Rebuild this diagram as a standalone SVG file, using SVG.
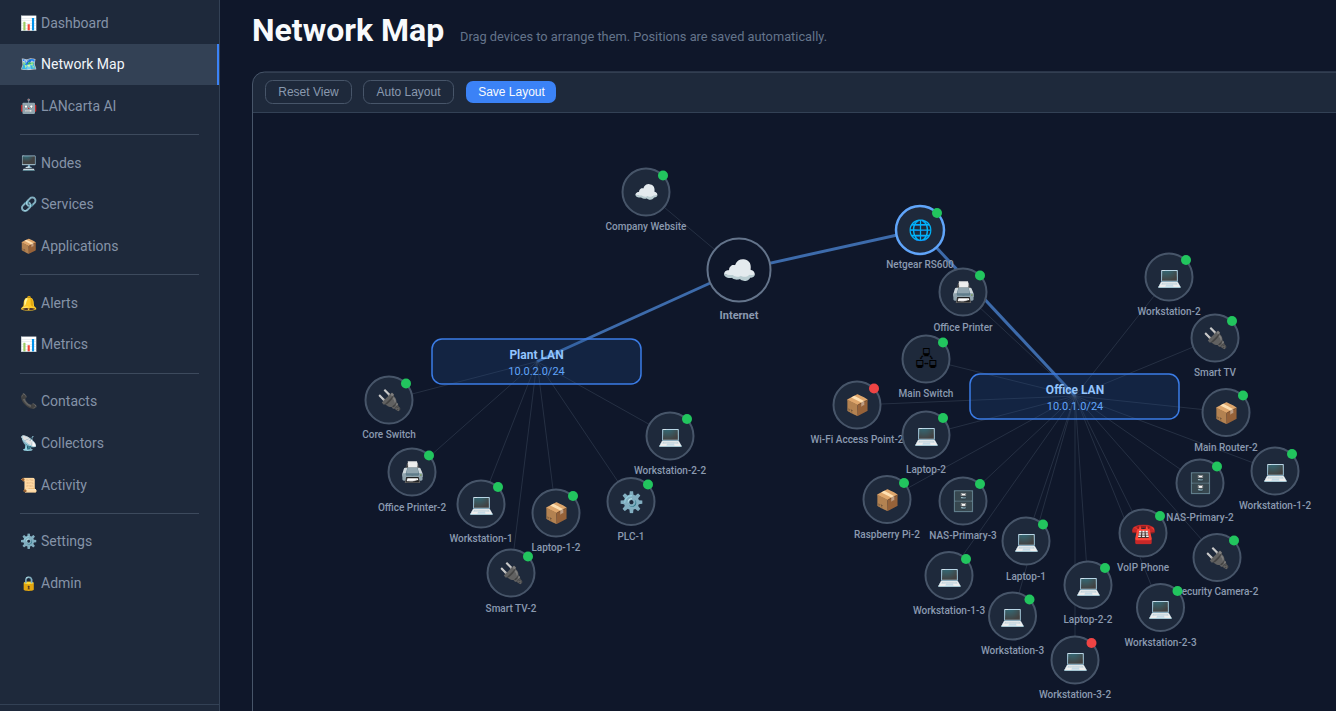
<svg xmlns="http://www.w3.org/2000/svg" width="1336" height="711" viewBox="0 0 1336 711">
<style>
text{font-family:Roboto,"Liberation Sans","Noto Color Emoji",sans-serif}
.nav{font-size:14px;fill:#8593a8}
.div{stroke:#3d4a5d;stroke-width:1}
.c{fill:#1e293b;stroke:#475569;stroke-width:2}
.ico{font-size:20px;text-anchor:middle}
.sw{font-family:"Noto Sans Symbols 2","Noto Sans Symbols2","Noto Sans Symbols","Noto Color Emoji";fill:#000}
.lbl{font-size:10px;font-weight:500;fill:#8b9ab0;text-anchor:middle}
.ok{fill:#22c55e}.bad{fill:#ef4444}
.thin{stroke:#475569;stroke-width:1;opacity:.4}
.thick{stroke:#3d6bab;stroke-width:3}
.lan{fill:#1e4a8a;fill-opacity:.25;stroke:#3b7ce6;stroke-width:1.500}
.lt{font-size:12px;font-weight:700;fill:#93c5fd;text-anchor:middle}
.ls{font-size:11px;fill:#60a5fa;text-anchor:middle}
.btn{fill:none;stroke:#475569;stroke-width:1}
.bt{font-family:"Liberation Sans",Arial,sans-serif;font-size:12px;fill:#8a99af;text-anchor:middle}
</style>
<rect width="1336" height="711" fill="#0f172a"/>
<g id="sidebar">
<rect width="220" height="711" fill="#1e293b"/>
<line x1="219.500" y1="0" x2="219.500" y2="711" stroke="#334155"/>
<line x1="0" y1="704.500" x2="219" y2="704.500" stroke="#334155"/>
<rect y="44" width="219" height="41" fill="#334155"/>
<rect x="217" y="44" width="2" height="41" fill="#3b82f6"/>
<line class="div" x1="20" y1="134.500" x2="199" y2="134.500"/>
<line class="div" x1="20" y1="274.500" x2="199" y2="274.500"/>
<line class="div" x1="20" y1="373.500" x2="199" y2="373.500"/>
<line class="div" x1="20" y1="513.500" x2="199" y2="513.500"/>
<text class="nav" x="20" y="28">📊</text><text class="nav" x="41" y="28">Dashboard</text>
<text class="nav" x="20" y="69">🗺️</text><text class="nav" x="41" y="69" style="fill:#f1f5f9">Network Map</text>
<text class="nav" x="20" y="111">🤖</text><text class="nav" x="41" y="111">LANcarta AI</text>
<text class="nav" x="20" y="168">🖥️</text><text class="nav" x="41" y="168">Nodes</text>
<text class="nav" x="20" y="209">🔗</text><text class="nav" x="41" y="209">Services</text>
<text class="nav" x="20" y="251">📦</text><text class="nav" x="41" y="251">Applications</text>
<text class="nav" x="20" y="308">🔔</text><text class="nav" x="41" y="308">Alerts</text>
<text class="nav" x="20" y="349">📊</text><text class="nav" x="41" y="349">Metrics</text>
<text class="nav" x="20" y="406">📞</text><text class="nav" x="41" y="406">Contacts</text>
<text class="nav" x="20" y="448">📡</text><text class="nav" x="41" y="448">Collectors</text>
<text class="nav" x="20" y="490">📜</text><text class="nav" x="41" y="490">Activity</text>
<text class="nav" x="20" y="546">⚙️</text><text class="nav" x="41" y="546">Settings</text>
<text class="nav" x="20" y="588">🔒</text><text class="nav" x="41" y="588">Admin</text>
</g>
<g id="header">
<text x="252" y="41" font-size="32" font-weight="700" fill="#f8fafc">Network Map</text>
<text x="460" y="41" font-size="12.800" fill="#64748b">Drag devices to arrange them. Positions are saved automatically.</text>
</g>
<g id="panel">
<path d="M252.500 711V84a12 12 0 0 1 12-12H1336V112H252.500" fill="#1e293b"/>
<rect x="253" y="113" width="1083" height="598" fill="#0f172a"/>
<path d="M252.500 711V84a12 12 0 0 1 12-12H1336" fill="none" stroke="#475569"/>
<line x1="253" y1="112.500" x2="1336" y2="112.500" stroke="#334155"/>
<rect class="btn" x="265.500" y="80.500" width="86" height="23" rx="7"/><text class="bt" x="308.500" y="96">Reset View</text>
<rect class="btn" x="363.500" y="80.500" width="90" height="23" rx="7"/><text class="bt" x="408.500" y="96">Auto Layout</text>
<rect x="466" y="81" width="90" height="22" rx="7" fill="#3b82f6"/><text class="bt" x="511.500" y="96" style="fill:#f8fafc">Save Layout</text>
</g>
<g id="connectors">
<line class="thin" x1="646" y1="192" x2="739" y2="270"/>
<line class="thick" x1="739" y1="270" x2="920" y2="230"/>
<line class="thick" x1="739" y1="270" x2="537" y2="361.500"/>
<line class="thick" x1="920" y1="230" x2="1075" y2="396"/>
<line class="thin" x1="537" y1="361.500" x2="389" y2="400"/>
<line class="thin" x1="537" y1="361.500" x2="412" y2="472"/>
<line class="thin" x1="537" y1="361.500" x2="481" y2="504"/>
<line class="thin" x1="537" y1="361.500" x2="556" y2="513"/>
<line class="thin" x1="537" y1="361.500" x2="631" y2="501"/>
<line class="thin" x1="537" y1="361.500" x2="670" y2="436"/>
<line class="thin" x1="537" y1="361.500" x2="511" y2="573"/>
<line class="thin" x1="1075" y1="396" x2="963" y2="292"/>
<line class="thin" x1="1075" y1="396" x2="926" y2="359"/>
<line class="thin" x1="1075" y1="396" x2="857" y2="405"/>
<line class="thin" x1="1075" y1="396" x2="926" y2="435"/>
<line class="thin" x1="1075" y1="396" x2="887" y2="499.500"/>
<line class="thin" x1="1075" y1="396" x2="963" y2="501"/>
<line class="thin" x1="1075" y1="396" x2="949" y2="575"/>
<line class="thin" x1="1075" y1="396" x2="1026" y2="541"/>
<line class="thin" x1="1075" y1="396" x2="1012.500" y2="616"/>
<line class="thin" x1="1075" y1="396" x2="1088" y2="585"/>
<line class="thin" x1="1075" y1="396" x2="1075" y2="660"/>
<line class="thin" x1="1075" y1="396" x2="1143" y2="533"/>
<line class="thin" x1="1075" y1="396" x2="1217" y2="557"/>
<line class="thin" x1="1075" y1="396" x2="1160" y2="607"/>
<line class="thin" x1="1075" y1="396" x2="1200" y2="483"/>
<line class="thin" x1="1075" y1="396" x2="1275" y2="471"/>
<line class="thin" x1="1075" y1="396" x2="1226" y2="412"/>
<line class="thin" x1="1075" y1="396" x2="1215" y2="338"/>
<line class="thin" x1="1075" y1="396" x2="1169" y2="277"/>
</g>
<g id="plant-lan"><rect class="lan" x="432" y="339" width="209" height="45" rx="10"/><text class="lt" x="536.500" y="359">Plant LAN</text><text class="ls" x="536.500" y="375">10.0.2.0/24</text></g>
<g id="office-lan"><rect class="lan" x="970" y="374" width="209" height="45" rx="10"/><text class="lt" x="1075" y="394">Office LAN</text><text class="ls" x="1075" y="410">10.0.1.0/24</text></g>
<g id="internet"><circle cx="739" cy="270" r="31.500" fill="#0f172a" stroke="#64748b" stroke-width="2"/><text class="ico" x="739.500" y="280" style="font-size:28px">☁️</text><text class="lbl" x="739" y="319" style="font-size:11px;font-weight:700">Internet</text></g>
<g id="company-website"><circle class="c" cx="646" cy="192" r="23.500"/><text class="ico" x="646.500" y="199">☁️</text><circle class="ok" cx="663" cy="175.500" r="5"/><text class="lbl" x="646" y="230">Company Website</text></g>
<g id="netgear-rs600"><circle class="c" cx="920" cy="230" r="24" style="stroke:#60a5fa;stroke-width:2.500"/><text class="ico" x="920.500" y="237">🌐</text><circle class="ok" cx="937" cy="213" r="5"/><text class="lbl" x="920" y="268">Netgear RS600</text></g>
<g id="office-printer"><circle class="c" cx="963" cy="292" r="23.500"/><text class="ico" x="963.500" y="299">🖨️</text><circle class="ok" cx="980" cy="275.500" r="5"/><text class="lbl" x="963" y="331">Office Printer</text></g>
<g id="main-switch"><circle class="c" cx="926" cy="359" r="23.500"/><text class="ico sw" x="926.500" y="366">🖧</text><circle class="ok" cx="943" cy="342.500" r="5"/><text class="lbl" x="926" y="397">Main Switch</text></g>
<g id="wifi-ap-2"><circle class="c" cx="857" cy="405" r="23.500"/><text class="ico" x="857.500" y="412">📦</text><circle class="bad" cx="874" cy="388.500" r="5"/><text class="lbl" x="857" y="443">Wi-Fi Access Point-2</text></g>
<g id="laptop-2"><circle class="c" cx="926" cy="435" r="23.500"/><text class="ico" x="926.500" y="442">💻</text><circle class="ok" cx="943" cy="418" r="5"/><text class="lbl" x="926" y="473">Laptop-2</text></g>
<g id="raspberry-pi-2"><circle class="c" cx="887" cy="499.500" r="23.500"/><text class="ico" x="887.500" y="507">📦</text><circle class="ok" cx="904" cy="483" r="5"/><text class="lbl" x="887" y="538">Raspberry Pi-2</text></g>
<g id="nas-primary-3"><circle class="c" cx="963" cy="501" r="23.500"/><text class="ico" x="963.500" y="508">🗄️</text><circle class="ok" cx="980" cy="484" r="5"/><text class="lbl" x="963" y="539">NAS-Primary-3</text></g>
<g id="workstation-1-3"><circle class="c" cx="949" cy="575.500" r="23.500"/><text class="ico" x="949.500" y="583">💻</text><circle class="ok" cx="966" cy="559" r="5"/><text class="lbl" x="949" y="614">Workstation-1-3</text></g>
<g id="laptop-1"><circle class="c" cx="1026" cy="541" r="23.500"/><text class="ico" x="1026.500" y="548">💻</text><circle class="ok" cx="1043" cy="524.500" r="5"/><text class="lbl" x="1026" y="580">Laptop-1</text></g>
<g id="workstation-3"><circle class="c" cx="1012.500" cy="616" r="23.500"/><text class="ico" x="1013" y="623">💻</text><circle class="ok" cx="1029.500" cy="599.500" r="5"/><text class="lbl" x="1012.500" y="654">Workstation-3</text></g>
<g id="laptop-2-2"><circle class="c" cx="1088" cy="585" r="23.500"/><text class="ico" x="1088.500" y="592">💻</text><circle class="ok" cx="1105" cy="568" r="5"/><text class="lbl" x="1088" y="623">Laptop-2-2</text></g>
<g id="workstation-3-2"><circle class="c" cx="1075" cy="660" r="23.500"/><text class="ico" x="1075.500" y="667">💻</text><circle class="bad" cx="1091.500" cy="643" r="5"/><text class="lbl" x="1075" y="698">Workstation-3-2</text></g>
<g id="security-camera-2"><circle class="c" cx="1217" cy="557.500" r="23.500"/><text class="ico" x="1217.500" y="565">🔌</text><circle class="ok" cx="1234" cy="540.500" r="5"/><text class="lbl" x="1217" y="595">Security Camera-2</text></g>
<g id="workstation-2-3"><circle class="c" cx="1160.500" cy="607.500" r="23.500"/><text class="ico" x="1161" y="615">💻</text><circle class="ok" cx="1177.500" cy="591" r="5"/><text class="lbl" x="1160.500" y="646">Workstation-2-3</text></g>
<g id="nas-primary-2"><circle class="c" cx="1200" cy="483" r="23.500"/><text class="ico" x="1200.500" y="490">🗄️</text><circle class="ok" cx="1217" cy="466.500" r="5"/><text class="lbl" x="1200" y="521">NAS-Primary-2</text></g>
<g id="voip-phone"><circle class="c" cx="1143" cy="533" r="23.500"/><text class="ico" x="1143.500" y="540">☎️</text><circle class="ok" cx="1160" cy="516" r="5"/><text class="lbl" x="1143" y="571">VoIP Phone</text></g>
<g id="workstation-1-2"><circle class="c" cx="1275" cy="471" r="23.500"/><text class="ico" x="1275.500" y="478">💻</text><circle class="ok" cx="1292" cy="454" r="5"/><text class="lbl" x="1275" y="509">Workstation-1-2</text></g>
<g id="main-router-2"><circle class="c" cx="1226" cy="412.500" r="23.500"/><text class="ico" x="1226.500" y="420">📦</text><circle class="ok" cx="1243" cy="395.500" r="5"/><text class="lbl" x="1226" y="451">Main Router-2</text></g>
<g id="smart-tv"><circle class="c" cx="1215" cy="338" r="23.500"/><text class="ico" x="1215.500" y="345">🔌</text><circle class="ok" cx="1232" cy="321" r="5"/><text class="lbl" x="1215" y="376">Smart TV</text></g>
<g id="workstation-2"><circle class="c" cx="1169" cy="277" r="23.500"/><text class="ico" x="1169.500" y="284">💻</text><circle class="ok" cx="1186" cy="260" r="5"/><text class="lbl" x="1169" y="315">Workstation-2</text></g>
<g id="core-switch"><circle class="c" cx="389" cy="400" r="23.500"/><text class="ico" x="389.500" y="407">🔌</text><circle class="ok" cx="406" cy="383.500" r="5"/><text class="lbl" x="389" y="438">Core Switch</text></g>
<g id="office-printer-2"><circle class="c" cx="412" cy="472" r="23.500"/><text class="ico" x="412.500" y="479">🖨️</text><circle class="ok" cx="429" cy="455.500" r="5"/><text class="lbl" x="412" y="511">Office Printer-2</text></g>
<g id="workstation-1"><circle class="c" cx="481" cy="504" r="23.500"/><text class="ico" x="481.500" y="511">💻</text><circle class="ok" cx="498" cy="487" r="5"/><text class="lbl" x="481" y="542">Workstation-1</text></g>
<g id="laptop-1-2"><circle class="c" cx="556" cy="513" r="23.500"/><text class="ico" x="556.500" y="520">📦</text><circle class="ok" cx="573" cy="496" r="5"/><text class="lbl" x="556" y="551">Laptop-1-2</text></g>
<g id="plc-1"><circle class="c" cx="631" cy="501.500" r="23.500"/><text class="ico" x="631.500" y="509">⚙️</text><circle class="ok" cx="648" cy="484.500" r="5"/><text class="lbl" x="631" y="540">PLC-1</text></g>
<g id="workstation-2-2"><circle class="c" cx="670" cy="436" r="23.500"/><text class="ico" x="670.500" y="443">💻</text><circle class="ok" cx="687" cy="419" r="5"/><text class="lbl" x="670" y="474">Workstation-2-2</text></g>
<g id="smart-tv-2"><circle class="c" cx="511" cy="573" r="23.500"/><text class="ico" x="511.500" y="580">🔌</text><circle class="ok" cx="528" cy="556.500" r="5"/><text class="lbl" x="511" y="612">Smart TV-2</text></g>
</svg>
